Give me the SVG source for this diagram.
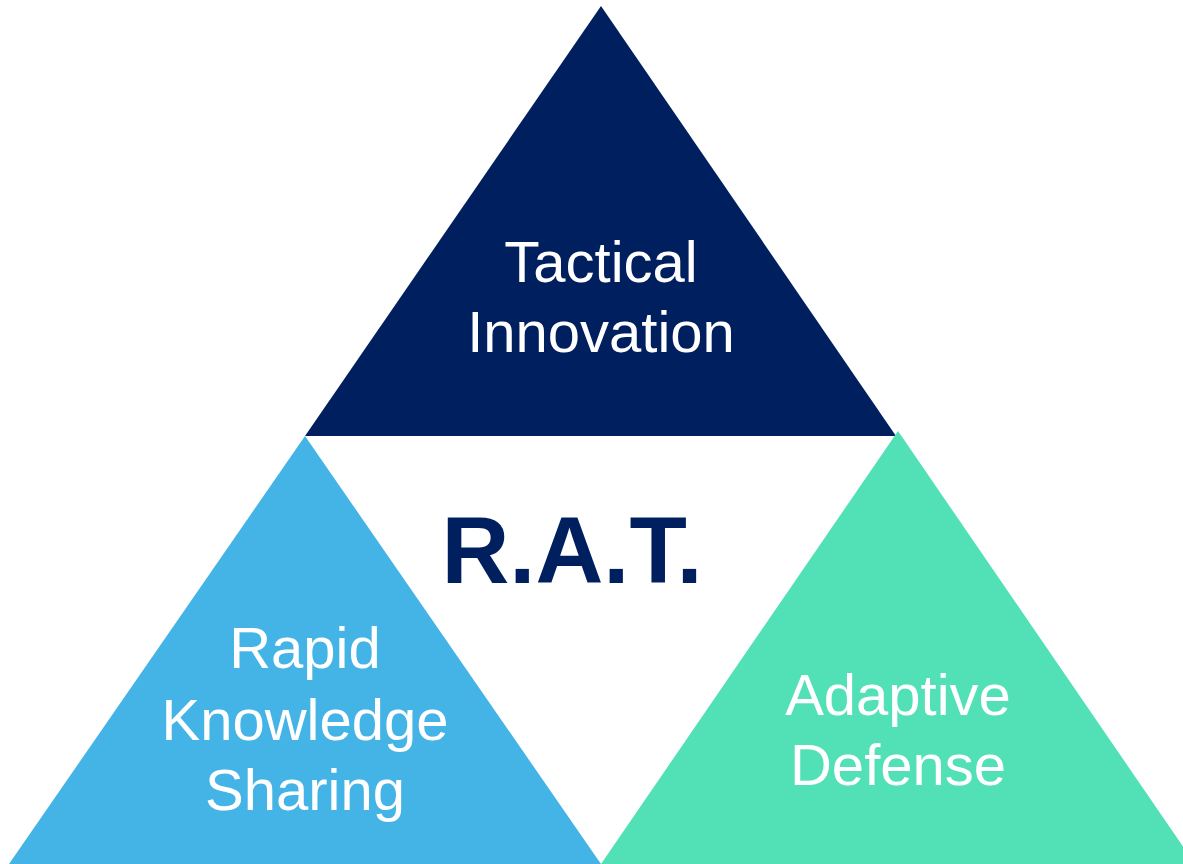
<svg xmlns="http://www.w3.org/2000/svg" width="1183" height="864" viewBox="0 0 1183 864">
<style>
.lbl{font-family:"Liberation Sans",Arial,sans-serif;font-size:58px;fill:#ffffff;text-anchor:middle}
.title{font-family:"Liberation Sans",Arial,sans-serif;font-size:94px;font-weight:bold;fill:#001F5F;text-anchor:middle}
</style>
<rect width="1183" height="864" fill="#ffffff"/>
<g id="top">
<polygon points="601,6 896,436 305,436" fill="#001F5F"/>
<text class="lbl" x="601" y="282">Tactical</text>
<text class="lbl" x="601" y="352">Innovation</text>
</g>
<g id="left">
<polygon points="305,436 601,864 9,864" fill="#44B4E6"/>
<text class="lbl" x="305" y="668">Rapid</text>
<text class="lbl" x="305" y="740">Knowledge</text>
<text class="lbl" x="305" y="810">Sharing</text>
</g>
<g id="right">
<polygon points="898,431 1195,864 601,864" fill="#52E0B6"/>
<text class="lbl" x="898" y="715">Adaptive</text>
<text class="lbl" x="898" y="785">Defense</text>
</g>
<g id="center">
<text class="title" x="572" y="583">R.A.T.</text>
</g>
<g id="connectors"></g>
</svg>
